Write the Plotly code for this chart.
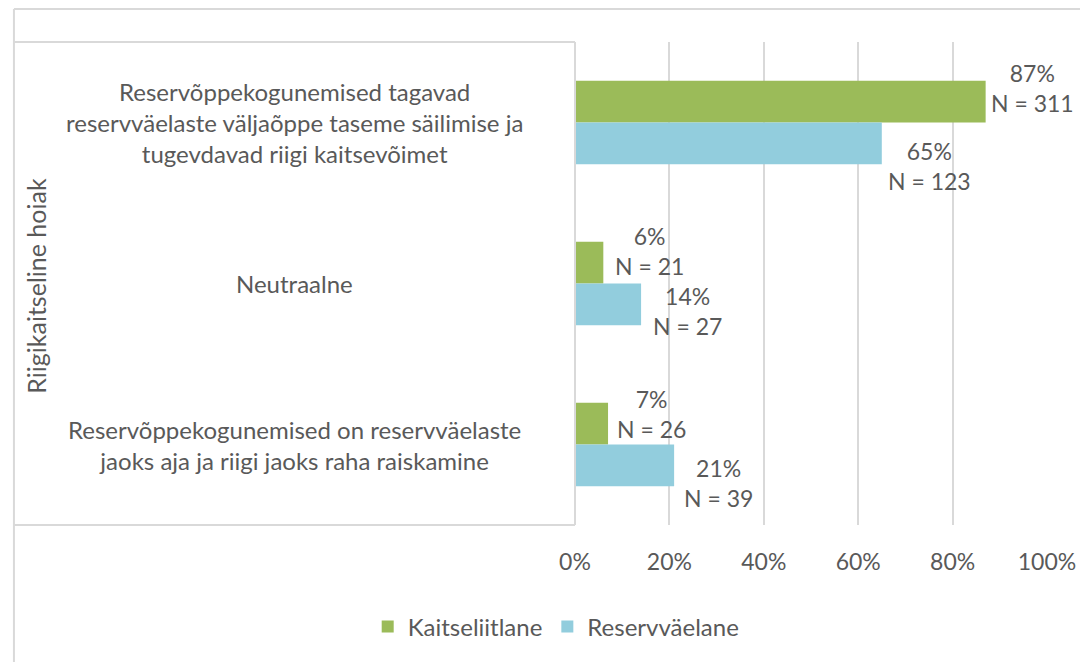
import plotly.graph_objects as go

categories = [
    "Reservõppekogunemised tagavad<br>reservväelaste väljaõppe taseme säilimise ja<br>tugevdavad riigi kaitsevõimet",
    "Neutraalne",
    "Reservõppekogunemised on reservväelaste<br>jaoks aja ja riigi jaoks raha raiskamine",
]
series_names = ["Kaitseliitlane", "Reservväelane"]
kaitseliitlane_pct = [87, 6, 7]
kaitseliitlane_n = [311, 21, 26]
reservvaelane_pct = [65, 14, 21]
reservvaelane_n = [123, 27, 39]
x_ticks = [0, 20, 40, 60, 80, 100]
x_tick_labels = ["0%", "20%", "40%", "60%", "80%", "100%"]
axis_title = "Riigikaitseline hoiak"

# styling (page body has an 8px margin, so the figure is 1080x654
# and every reference pixel position is offset by 8)
OFF = 8
W, H = 1080, 654
ML, MR, MT, MB = 575 - OFF, 36, 42 - OFF, 137
FONT = "Lato"
TXT = "#595959"
GRID = "#D9D9D9"
colors = ["#9BBB59", "#92CDDD"]
FS_LABEL = 23
FS_CAT = 24
FS_TICK = 23
FS_LEG = 24
FS_TITLE = 25

pw = W - ML - MR
ph = H - MT - MB


def px_x(px):
    return (px - OFF - ML) / pw


def px_y(py):
    return (H - MB - (py - OFF)) / ph


fig = go.Figure()
fig.add_trace(go.Bar(y=categories, x=kaitseliitlane_pct, name=series_names[0],
                     orientation="h", marker=dict(color=colors[0], line=dict(width=0))))
fig.add_trace(go.Bar(y=categories, x=reservvaelane_pct, name=series_names[1],
                     orientation="h", marker=dict(color=colors[1], line=dict(width=0))))

annotations = []
# data labels (offsets are layout tweaks only)
green_shift = [(3, 35), (10, 33), (7, 31)]
blue_shift = [(4, -43), (10, -27), (8, -38)]
for i, cat in enumerate(categories):
    for vals, ns, shifts in ((kaitseliitlane_pct, kaitseliitlane_n, green_shift),
                             (reservvaelane_pct, reservvaelane_n, blue_shift)):
        annotations.append(dict(
            x=vals[i], y=cat, xref="x", yref="y",
            text=f"{vals[i]}%<br>N = {ns[i]}",
            showarrow=False, xanchor="left", yanchor="middle", align="center",
            xshift=shifts[i][0], yshift=shifts[i][1],
            font=dict(family=FONT, size=FS_LABEL, color=TXT),
        ))
# category labels centred in the left box
for cat in categories:
    annotations.append(dict(
        x=px_x((8 + 575) / 2), y=cat, xref="paper", yref="y",
        text=cat, showarrow=False, xanchor="center", yanchor="middle", align="center",
        font=dict(family=FONT, size=FS_CAT, color=TXT),
    ))
# axis title
annotations.append(dict(
    x=px_x(30), y=px_y(286), xref="paper", yref="paper", text=axis_title,
    textangle=-90, showarrow=False, xanchor="center", yanchor="middle",
    font=dict(family=FONT, size=FS_TITLE, color=TXT),
))

shapes = [
    # outer chart border (left + top)
    dict(type="line", xref="paper", yref="paper", x0=px_x(8), x1=px_x(1100),
         y0=px_y(9), y1=px_y(9), line=dict(color=GRID, width=2)),
    dict(type="line", xref="paper", yref="paper", x0=px_x(8), x1=px_x(8),
         y0=px_y(9), y1=px_y(680), line=dict(color=GRID, width=2)),
    # category box
    dict(type="line", xref="paper", yref="paper", x0=px_x(8), x1=px_x(575),
         y0=px_y(42), y1=px_y(42), line=dict(color=GRID, width=2)),
    dict(type="line", xref="paper", yref="paper", x0=px_x(8), x1=px_x(575),
         y0=px_y(525), y1=px_y(525), line=dict(color=GRID, width=2)),
    dict(type="line", xref="paper", yref="paper", x0=px_x(575), x1=px_x(575),
         y0=px_y(42), y1=px_y(525), line=dict(color=GRID, width=2)),
]

fig.update_layout(
    width=W, height=H,
    margin=dict(l=ML, r=MR, t=MT, b=MB),
    paper_bgcolor="white", plot_bgcolor="white",
    barmode="group", bargap=0.48, bargroupgap=0,
    font=dict(family=FONT, size=FS_LABEL, color=TXT),
    xaxis=dict(range=[0, 100], tickvals=x_ticks, ticktext=x_tick_labels,
               showgrid=True, gridcolor=GRID, gridwidth=2, zeroline=False,
               showline=False, ticks="", ticklabelstandoff=21,
               tickfont=dict(family=FONT, size=FS_TICK, color=TXT)),
    yaxis=dict(autorange="reversed", showticklabels=False, showgrid=False,
               zeroline=False, showline=False, ticks=""),
    legend=dict(orientation="h", x=px_x(556), y=px_y(627), xanchor="center",
                yanchor="middle", font=dict(family=FONT, size=FS_LEG, color=TXT),
                itemsizing="constant", traceorder="normal", itemwidth=30),
    annotations=annotations,
    shapes=shapes,
    showlegend=True,
)

fig.write_html("out.html")
